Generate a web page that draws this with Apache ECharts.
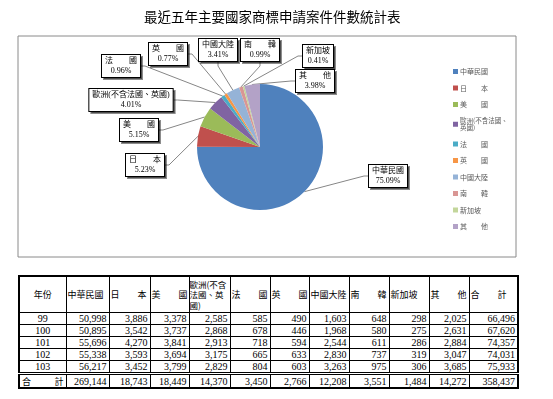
<!DOCTYPE html>
<html>
<head>
<meta charset="utf-8">
<title>最近五年主要國家商標申請案件件數統計表</title>
<script src="https://cdn.jsdelivr.net/npm/echarts@6/dist/echarts.min.js"></script>
<style>
body{margin:0;background:#fff;}
#main{position:absolute;left:0;top:0;width:553px;height:265px;}
#tbl{position:absolute;left:18px;top:275px;width:499px;border-collapse:collapse;table-layout:fixed;
  border:2px solid #000;font-family:"Liberation Serif","Noto Sans CJK TC",serif;font-size:10px;color:#000;}
#tbl td{border:1px solid #000;padding:0 2px;height:11px;line-height:11px;text-align:right;white-space:nowrap;}
#tbl tr.hd td{height:35px;line-height:11px;font-family:"Noto Sans CJK TC",sans-serif;font-size:9px;
  text-align:left;white-space:normal;padding:0 1px;}
#tbl tr.hd td.c{text-align:center;}
#tbl tr.hd td.eu{font-size:8.5px;line-height:10.5px;padding:0;}
#tbl td.yr{text-align:center;}
#tbl tr.tot td{border-top:3px double #000;height:12px;}
#tbl td.lb{text-align:justify;text-align-last:justify;font-family:"Noto Sans CJK TC",sans-serif;font-size:9px;}
</style>
</head>
<body>
<div id="main"></div>
<table id="tbl"></table>
<script>
// 國家別
var names = ['中華民國','日　　本','美　　國','歐洲(不含法國、英國)','法　　國','英　　國','中國大陸','南　　韓','新加坡','其　　他'];
var years = ['99','100','101','102','103'];
// 各年件數 (最後一欄為合計)
var y99  = [50998,3886,3378,2585,585,490,1603,648,298,2025,66496];
var y100 = [50895,3542,3737,2868,678,446,1968,580,275,2631,67620];
var y101 = [55696,4270,3841,2913,718,594,2544,611,286,2884,74357];
var y102 = [55338,3593,3694,3175,665,633,2830,737,319,3047,74031];
var y103 = [56217,3452,3799,2829,804,603,3263,975,306,3685,75933];
var totals = [269144,18743,18449,14370,3450,2766,12208,3551,1484,14272,358437];

var colors = ['#4F81BD','#C0504D','#9BBB59','#8064A2','#4BACC6','#F79646','#95B3D7','#D99694','#C3D69B','#B3A2C7'];
// 標籤框中心位置
var labelPos = [[388,176],[145,165],[139,130],[131,100],[121,66],[168,54],[218,50],[260,50],[318,56],[315,81]];

var chart = echarts.init(document.getElementById('main'));
var option = {
	animation:false,
	color:colors,
	textStyle:{fontFamily:'"Liberation Serif","Noto Sans CJK TC",serif'},
	title:{
		text:'最近五年主要國家商標申請案件件數統計表',
		left:139, top:5,
		textStyle:{fontSize:13.5, fontWeight:'normal', color:'#000', fontFamily:'"Noto Sans CJK TC",sans-serif'}
	},
	graphic:[{
		type:'rect', shape:{x:18, y:36, width:498, height:221},
		style:{fill:'none', stroke:'#8a8a8a', lineWidth:1}, silent:true, z:-1
	}],
	legend:{
		orient:'vertical', left:448, top:63,
		itemWidth:5, itemHeight:5, itemGap:9.5, icon:'rect',
		selectedMode:false,
		textStyle:{fontSize:7, color:'#595959', padding:[0,0,0,-3], fontFamily:'"Noto Sans CJK TC",sans-serif',
			rich:{s:{fontSize:6.5, lineHeight:7, color:'#595959', fontFamily:'"Noto Sans CJK TC",sans-serif'}}},
		formatter:function(n){
			if(n === names[3]) return '{s|歐洲(不含法國、}\n{s|英國)}';
			return n;
		},
		data:names
	},
	series:[{
		type:'pie',
		center:[260,147], radius:63,
		startAngle:90, clockwise:true,
		emphasis:{disabled:true},
		data:names.map(function(n,i){ return {name:n, value:totals[i]}; }),
		label:{
			show:true, formatter:'{b}\n{d}%',
			fontSize:8, lineHeight:10, color:'#000', align:'center',
			fontFamily:'"Liberation Serif","Noto Sans CJK TC",serif',
			backgroundColor:'#fff', borderColor:'#000', borderWidth:1, padding:[1,3],
			shadowColor:'rgba(0,0,0,0.45)', shadowOffsetX:2, shadowOffsetY:2, shadowBlur:0
		},
		labelLine:{show:true, length:4, length2:4, lineStyle:{color:'#868686', width:1}},
		labelLayout:function(p){
			var pos = labelPos[p.dataIndex];
			return {x:pos[0], y:pos[1], align:'center', verticalAlign:'middle'};
		}
	}]
};
chart.setOption(option);

// 表格
var widths = [47,43,41,39,41,40,39,40,40,40,40,49];
var rows = [y99,y100,y101,y102,y103];
function fmt(v){ return v.toLocaleString('en-US'); }
var html = '<colgroup>';
widths.forEach(function(w){ html += '<col style="width:'+w+'px">'; });
html += '</colgroup><tr class="hd"><td class="c">年份</td>';
names.forEach(function(n,i){ html += '<td'+(i === 3 ? ' class="eu"' : '')+'>'+n+'</td>'; });
html += '<td>合　　計</td></tr>';
rows.forEach(function(r,i){
	html += '<tr><td class="yr">'+years[i]+'</td>';
	r.forEach(function(v){ html += '<td>'+fmt(v)+'</td>'; });
	html += '</tr>';
});
html += '<tr class="tot"><td class="lb">合　　計</td>';
totals.forEach(function(v){ html += '<td>'+fmt(v)+'</td>'; });
html += '</tr>';
document.getElementById('tbl').innerHTML = html;
</script>
</body>
</html>
